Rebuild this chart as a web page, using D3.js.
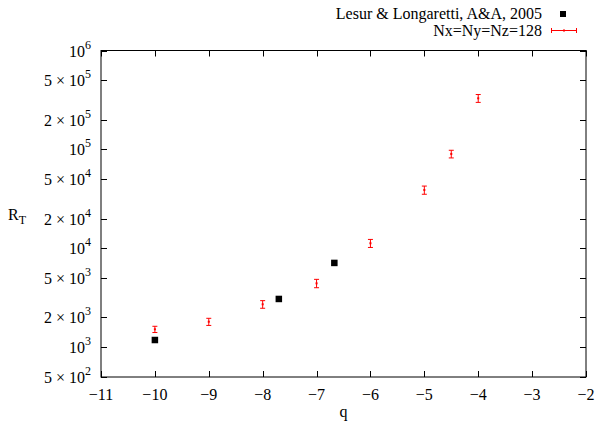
<!DOCTYPE html>
<html>
<head>
<meta charset="utf-8">
<script src="https://cdn.jsdelivr.net/npm/d3@7"></script>
<style>
  body { margin: 0; background: #fff; }
  svg text { font-family: "Liberation Serif", "Times New Roman", serif; fill: #000; }
</style>
</head>
<body>
<svg id="chart"></svg>
<script>
// simulation results, Nx=Ny=Nz=128
const simQ = [-10, -9, -8, -7, -6, -5, -4.5, -4];
const simR = [1518, 1811, 2717, 4425, 11250, 38900, 90000, 328800];
const simErr = [110, 150, 240, 430, 1050, 3700, 8000, 30000];

// Lesur & Longaretti 2005
const refQ = [-10, -7.7, -6.67];
const refR = [1183, 3076, 7117];

const xTicks = [-11, -10, -9, -8, -7, -6, -5, -4, -3, -2];
const yTicks = [5e2, 1e3, 2e3, 5e3, 1e4, 2e4, 5e4, 1e5, 2e5, 5e5, 1e6];

const width = 596, height = 427;
const margin = { top: 50.5, right: 10, bottom: 50, left: 101 };
const fs = "16px";

const svg = d3.select("#chart")
    .attr("width", width)
    .attr("height", height);

const x = d3.scaleLinear()
    .domain([-11, -2])
    .range([margin.left, width - margin.right]);

const y = d3.scaleLog()
    .domain([5e2, 1e6])
    .range([height - margin.bottom, margin.top]);

const tickLen = 6;

// frame
svg.append("rect")
    .attr("x", margin.left)
    .attr("y", margin.top)
    .attr("width", width - margin.left - margin.right)
    .attr("height", height - margin.top - margin.bottom)
    .style("fill", "none")
    .style("stroke", "#000")
    .style("stroke-width", 1);

// x ticks (inward, mirrored on top)
const xt = svg.append("g");
xTicks.forEach(t => {
    const px = Math.round(x(t)) + 0.5;
    xt.append("line").attr("x1", px).attr("x2", px)
        .attr("y1", y.range()[0]).attr("y2", y.range()[0] - tickLen)
        .style("stroke", "#000");
    xt.append("line").attr("x1", px).attr("x2", px)
        .attr("y1", y.range()[1]).attr("y2", y.range()[1] + tickLen)
        .style("stroke", "#000");
    xt.append("text")
        .attr("x", x(t))
        .attr("y", y.range()[0] + 23)
        .attr("text-anchor", "middle")
        .style("font-size", fs)
        .text(d3.format("")(t).replace("-", "\u2212"));
});

// y ticks (inward, mirrored on right)
const yt = svg.append("g");
yTicks.forEach(t => {
    const py = Math.round(y(t)) + 0.5;
    yt.append("line").attr("x1", x.range()[0]).attr("x2", x.range()[0] + tickLen)
        .attr("y1", py).attr("y2", py).style("stroke", "#000");
    yt.append("line").attr("x1", x.range()[1]).attr("x2", x.range()[1] - tickLen)
        .attr("y1", py).attr("y2", py).style("stroke", "#000");

    const exp = Math.floor(Math.log10(t) + 1e-9);
    const mant = Math.round(t / Math.pow(10, exp));
    const label = yt.append("text")
        .attr("x", margin.left - 10)
        .attr("y", y(t) + 6)
        .attr("text-anchor", "end")
        .style("font-size", fs);
    label.append("tspan").text(mant === 1 ? "10" : mant + " \u00d7 10");
    label.append("tspan")
        .attr("dy", -8)
        .style("font-size", "12px")
        .text(exp);
});

// axis titles
svg.append("text")
    .attr("x", (x.range()[0] + x.range()[1]) / 2)
    .attr("y", height - 10)
    .attr("text-anchor", "middle")
    .style("font-size", fs)
    .text("q");

const yl = svg.append("text")
    .attr("x", 8)
    .attr("y", 220)
    .style("font-size", fs);
yl.append("tspan").text("R");
yl.append("tspan").attr("dy", 4).style("font-size", "12px").text("T");

// error bars
const red = "#ff0000";
const capW = 2.5;
const eb = svg.append("g").style("stroke", red).style("stroke-width", 1);
simQ.forEach((q, i) => {
    const px = x(q);
    const lo = y(simR[i] - simErr[i]);
    const hi = y(simR[i] + simErr[i]);
    eb.append("line").attr("x1", px).attr("x2", px).attr("y1", lo).attr("y2", hi);
    eb.append("line").attr("x1", px - capW).attr("x2", px + capW).attr("y1", lo).attr("y2", lo);
    eb.append("line").attr("x1", px - capW).attr("x2", px + capW).attr("y1", hi).attr("y2", hi);
    svg.append("rect")
        .attr("x", px - 1).attr("y", y(simR[i]) - 1)
        .attr("width", 2).attr("height", 2)
        .style("fill", red);
});

// reference squares
svg.selectAll(".ref")
    .data(refQ)
    .enter()
    .append("rect")
    .attr("class", "ref")
    .attr("x", (d) => x(d) - 3.25)
    .attr("y", (d, i) => y(refR[i]) - 3.25)
    .attr("width", 6.5)
    .attr("height", 6.5)
    .style("fill", "#000");

// legend
const lg = svg.append("g");
lg.append("text")
    .attr("x", 542).attr("y", 19)
    .attr("text-anchor", "end")
    .style("font-size", fs)
    .text("Lesur & Longaretti, A&A, 2005");
lg.append("rect")
    .attr("x", 560).attr("y", 11)
    .attr("width", 6).attr("height", 6)
    .style("fill", "#000");
lg.append("text")
    .attr("x", 542).attr("y", 36)
    .attr("text-anchor", "end")
    .style("font-size", fs)
    .text("Nx=Ny=Nz=128");
const ly = 30.5;
lg.append("line").attr("x1", 551).attr("x2", 577).attr("y1", ly).attr("y2", ly)
    .style("stroke", red);
lg.append("line").attr("x1", 551.5).attr("x2", 551.5).attr("y1", ly - 2.5).attr("y2", ly + 2.5)
    .style("stroke", red);
lg.append("line").attr("x1", 576.5).attr("x2", 576.5).attr("y1", ly - 2.5).attr("y2", ly + 2.5)
    .style("stroke", red);
lg.append("rect").attr("x", 563).attr("y", ly - 1).attr("width", 2).attr("height", 2)
    .style("fill", red);
</script>
</body>
</html>
